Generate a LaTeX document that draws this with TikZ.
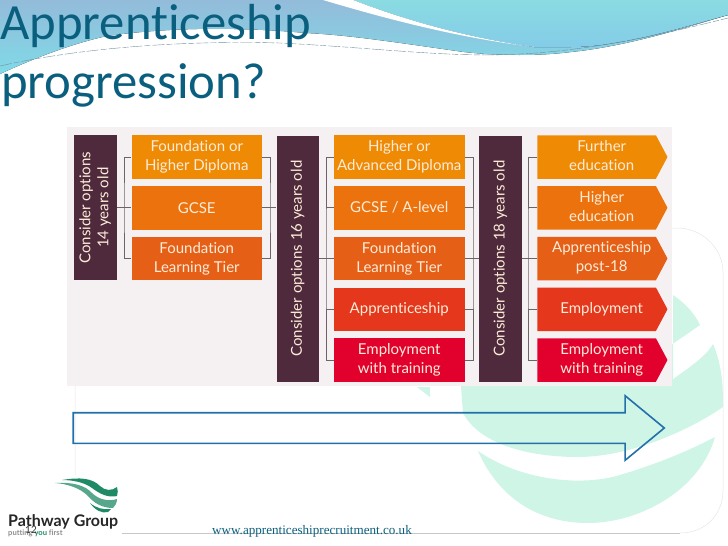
\documentclass[tikz,border=0pt]{standalone}
\usepackage{fontspec}
\setmainfont[Ligatures=NoCommon]{Lato}
\newfontfamily\titlefont[Ligatures=NoCommon]{Carlito}
\newfontfamily\urlfont{Liberation Serif}
\usepackage{xcolor}
\usetikzlibrary{shapes.symbols,shapes.arrows}
\definecolor{RowOne}{RGB}{239,138,5}
\definecolor{RowTwo}{RGB}{236,114,14}
\definecolor{RowThree}{RGB}{229,95,23}
\definecolor{RowFour}{RGB}{228,55,28}
\definecolor{RowFive}{RGB}{226,1,45}
\definecolor{Plum}{RGB}{78,42,60}
\definecolor{Cream}{RGB}{252,236,216}
\definecolor{Wire}{RGB}{110,100,104}
\definecolor{Panel}{RGB}{245,241,243}
\definecolor{Mint}{RGB}{207,245,230}
\definecolor{TitleBlue}{RGB}{11,95,126}
\definecolor{ArrowBlue}{RGB}{34,112,170}
\definecolor{LogoGreen}{RGB}{31,138,102}
\definecolor{WaveTop}{RGB}{147,187,218}
\definecolor{WaveLow}{RGB}{128,218,232}
\definecolor{WaveRightTop}{RGB}{138,219,226}
\definecolor{WaveRightLow}{RGB}{132,204,232}
\newcommand{\outcometext}[1]{\hspace*{10pt}\begin{tabular}{@{}c@{}}#1\end{tabular}}
\tikzset{%
	option/.style={rectangle, draw=none, fill=#1, text=Cream, font=\fontsize{15}{19}\selectfont,
		text centered, align=center, inner sep=0pt, minimum width=130.5pt, minimum height=43.5pt},
	outcome/.style={signal, signal to=east, signal pointer angle=124, draw=none, fill=#1, text=Cream,
		font=\fontsize{15}{19}\selectfont, inner sep=0pt,
		minimum width=130pt, minimum height=43.5pt},
	consider/.style={rectangle, draw=none, fill=Plum, text=Cream, rotate=90,
		font=\fontsize{15}{18}\selectfont, align=center, inner sep=0pt, minimum height=42.5pt},
	wire/.style={draw=Wire, line width=0.7pt},
}

\begin{document}
\begin{tikzpicture}[x=1pt,y=-1pt,node distance=50.75pt]
    \useasboundingbox (0,0) rectangle (728,546);

    % top wave
    \fill[top color=WaveTop, bottom color=WaveLow]
        (0,0) -- (728,0) -- (728,15) .. controls (690,26) and (630,46) .. (571,52)
        .. controls (540,56) and (500,56) .. (464,52) .. controls (400,43) and (350,35) .. (306,33)
        .. controls (240,27) and (170,27) .. (107,36) .. controls (70,44) and (30,60) .. (0,74) -- cycle;
    \fill[top color=WaveRightTop, bottom color=WaveRightLow]
        (353,0) -- (728,0) -- (728,15) .. controls (680,28) and (620,47) .. (571,47)
        -- (534,47) .. controls (470,38) and (410,22) .. (353,0) -- cycle;
    \fill[white] (323,0) -- (353,0) .. controls (410,22) and (470,38) .. (534,47)
        .. controls (460,38) and (390,20) .. (323,0) -- cycle;
    \draw[Wire!40!TitleBlue!70, line width=0.4pt, dash pattern=on 12pt off 2pt on 6pt off 2pt]
        (0,66) .. controls (70,50) and (170,40) .. (280,43) .. controls (380,48) and (450,58) .. (520,54)
        .. controls (600,50) and (680,30) .. (728,18);

    % globe behind the panel
    \fill[Mint] (673,295) .. controls (685,303) and (695,314) .. (700,325)
        .. controls (650,360) and (590,400) .. (540,400) .. controls (525,400) and (515,393) .. (508,386) -- (673,386) -- cycle;
    \fill[Mint] (461,386) -- (672,386) -- (672,380) .. controls (685,370) and (705,358) .. (713,344)
        .. controls (722,365) and (723,385) .. (723,407) .. controls (690,430) and (630,457) .. (578,457)
        .. controls (530,457) and (480,445) .. (463,413) -- cycle;
    \fill[Mint] (478,451) .. controls (520,480) and (580,487) .. (620,475) .. controls (660,463) and (690,450) .. (715,437)
        .. controls (700,490) and (640,523) .. (588,523) .. controls (530,523) and (495,490) .. (478,451) -- cycle;
    \fill[Mint] (417,387) -- (430,387) -- (430,397) -- cycle;
    \draw[black!10, line width=0.5pt] (75,475) -- (75,228) -- (680,228) .. controls (705,230) and (723,250) .. (723,272)
        -- (723,490) .. controls (723,515) and (705,533) .. (680,533);
    \draw[black!22, line width=0.7pt] (680,533) -- (122,533);

    \fill[Panel] (67,127) rectangle (672,386);

    % 14 years old
    \node [consider, minimum width=145pt] (Options14) at (95.25,207.75) {Consider options\\14 years old};
    \node [option=RowOne] (Diploma14) at (196.75,157) {Foundation or\\Higher Diploma};
    \node [option=RowTwo] (Gcse14) [below of = Diploma14] {GCSE};
    \node [option=RowThree] (Tier14) [below of = Gcse14] {Foundation\\Learning Tier};

    % 16 years old
    \node [consider, minimum width=246pt] (Options16) at (297.75,258.5) {Consider options 16 years old};
    \node [option=RowOne] (Diploma16) at (399.25,157) {Higher or\\Advanced Diploma};
    \node [option=RowTwo] (Gcse16) [below of = Diploma16] {GCSE / A-level};
    \node [option=RowThree] (Tier16) [below of = Gcse16] {Foundation\\Learning Tier};
    \node [option=RowFour] (Appr16) [below of = Tier16] {Apprenticeship};
    \node [option=RowFive] (Job16) [below of = Appr16] {Employment\\with training};

    % 18 years old
    \node [consider, minimum width=246pt] (Options18) at (500.5,258.5) {Consider options 18 years old};
    \node [outcome=RowOne] (Further) at (596.7,157) {\outcometext{Further\\education}};
    \node [outcome=RowTwo] (Higher) [below of = Further] {\outcometext{Higher\\education}};
    \node [outcome=RowThree] (Appr18) [below of = Higher] {\outcometext{Apprenticeship\\post-18}};
    \node [outcome=RowFour] (Work) [below of = Appr18] {\outcometext{Employment}};
    \node [outcome=RowFive] (Job18) [below of = Work] {\outcometext{Employment\\with training}};

    \coordinate (Bus14a) at (124,207.75);
    \coordinate (Bus14b) at (270,207.75);
    \coordinate (Bus16a) at (326,258.5);
    \coordinate (Bus16b) at (473,258.5);
    \coordinate (Bus18) at (528,258.5);

    \path[wire] (Options14.south) -- (Gcse14.west);
    \path[wire] (Diploma14.west) -| (Bus14a) |- (Tier14.west);
    \path[wire] (Diploma14.east) -| (Bus14b) |- (Tier14.east);
    \path[wire] (Gcse14.east) -- (Options16.north |- Gcse14.east);

    \path[wire] (Options16.south) -- (Tier16.west);
    \path[wire] (Diploma16.west) -| (Bus16a) |- (Job16.west);
    \path[wire] (Gcse16.west) -- (Bus16a |- Gcse16.west);
    \path[wire] (Appr16.west) -- (Bus16a |- Appr16.west);
    \path[wire] (Diploma16.east) -| (Bus16b) |- (Job16.east);
    \path[wire] (Gcse16.east) -- (Bus16b |- Gcse16.east);
    \path[wire] (Appr16.east) -- (Bus16b |- Appr16.east);
    \path[wire] (Tier16.east) -- (Options18.north);

    \path[wire] (Options18.south) -- (Appr18.west);
    \path[wire] (Further.west) -| (Bus18) |- (Job18.west);
    \path[wire] (Higher.west) -- (Bus18 |- Higher.west);
    \path[wire] (Work.west) -- (Bus18 |- Work.west);

    \node [single arrow, draw=ArrowBlue, line width=1.6pt, fill=none, inner xsep=0pt, inner ysep=14.5pt,
        minimum height=591pt, single arrow head extend=17pt,
        single arrow tip angle=79] (Progress) at (359.5,428) {};

    % title and footer
    \node [anchor=base west, inner sep=0pt, text=TitleBlue, font=\titlefont\fontsize{50.7}{59}\selectfont] (TitleOne) at (0,39) {Apprenticeship};
    \node [anchor=base west, inner sep=0pt, text=TitleBlue, font=\titlefont\fontsize{50.7}{59}\selectfont] (TitleTwo) at (1,98) {progression?};

    \fill[LogoGreen] (62,480) .. controls (80,477) and (92,478) .. (100,486) .. controls (105,491) and (112,491) .. (117,487)
        .. controls (118,490) and (118,493) .. (117,496) .. controls (108,498) and (100,494) .. (92,488)
        .. controls (84,482) and (72,480) .. (62,480) -- cycle;
    \fill[LogoGreen!75] (55,483) .. controls (72,482) and (85,485) .. (92,493) .. controls (98,499) and (108,502) .. (117,499)
        .. controls (117,503) and (115,506) .. (113,508) .. controls (102,508) and (94,503) .. (88,496)
        .. controls (80,488) and (68,484) .. (55,483) -- cycle;
    \fill[LogoGreen] (90,503) .. controls (96,508) and (103,510) .. (111,509) -- (108,512)
        .. controls (102,514) and (95,510) .. (90,503) -- cycle;
    \node [anchor=base west, inner sep=0pt, text=black!85, font=\bfseries\fontsize{16}{20}\selectfont] (Pathway) at (8,526) {Pathway Group};
    \node [anchor=base west, inner sep=0pt, text=black!45, font=\bfseries\fontsize{7.6}{8}\selectfont] (Motto) at (8,535) {putting \textcolor{LogoGreen}{you} first};
    \node [anchor=base, inner sep=0pt, text=black!80, font=\fontsize{10}{12}\selectfont] (PageNum) at (31,533) {12};
    \node [anchor=base west, inner sep=0pt, text=TitleBlue, font=\urlfont\fontsize{13.1}{15}\selectfont] (Url) at (212,534) {www.apprenticeshiprecruitment.co.uk};
\end{tikzpicture}
\end{document}
